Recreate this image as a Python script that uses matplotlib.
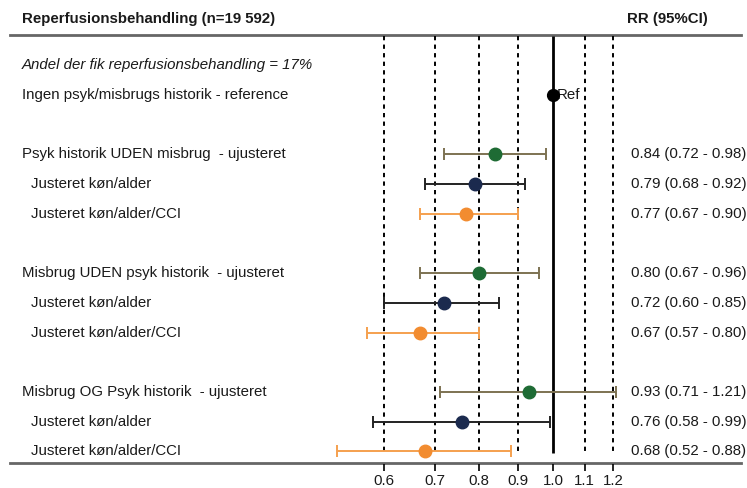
import numpy as np
import matplotlib
matplotlib.use("Agg")
import matplotlib.pyplot as plt
import matplotlib.transforms as mtransforms

plt.rcParams["font.family"] = ["Liberation Sans", "DejaVu Sans"]

# --- data -------------------------------------------------------------
title = "Reperfusionsbehandling (n=19 592)"
col_header = "RR (95%CI)"
share_note = "Andel der fik reperfusionsbehandling = 17%"
reference_label = "Ingen psyk/misbrugs historik - reference"

group_labels = [
    "Psyk historik UDEN misbrug  - ujusteret",
    "Misbrug UDEN psyk historik  - ujusteret",
    "Misbrug OG Psyk historik  - ujusteret",
]
adjust_labels = ["Justeret køn/alder", "Justeret køn/alder/CCI"]

rr = [0.84, 0.79, 0.77, 0.80, 0.72, 0.67, 0.93, 0.76, 0.68]
ci_low = [0.72, 0.68, 0.67, 0.67, 0.60, 0.57, 0.71, 0.58, 0.52]
ci_high = [0.98, 0.92, 0.90, 0.96, 0.85, 0.80, 1.21, 0.99, 0.88]

ticks = [0.6, 0.7, 0.8, 0.9, 1.0, 1.1, 1.2]

# model styling: unadjusted, sex/age, sex/age/CCI
marker_colors = ["#1e6b34", "#1b2a4e", "#f28c30"]
line_colors = ["#7d7252", "#222222", "#f5a04e"]

# --- layout (pixel-ish rows) ------------------------------------------
W, H = 747, 488
row0, row_h = 95, 29.7
fig = plt.figure(figsize=(W / 100, H / 100), dpi=100)
ax = fig.add_axes([0, 0, 1, 1])
ax.set_xscale("log")
px_per_ln = 331.0
x_one = 553.0
ax.set_xlim(np.exp(-x_one / px_per_ln), np.exp((W - x_one) / px_per_ln))
ax.set_ylim(H, 0)
ax.set_axis_off()

blend = mtransforms.blended_transform_factory(ax.transAxes, ax.transData)

def fx(px):
    return px / W

def row_y(i):
    return row0 + i * row_h

fs = 10.8
txt_color = "#1a1a1a"

# header
ax.text(fx(22), 19, title, transform=blend, fontsize=fs, fontweight="bold",
        va="center", ha="left", color=txt_color)
ax.text(fx(627), 19, col_header, transform=blend, fontsize=fs,
        fontweight="bold", va="center", ha="left", color=txt_color)
ax.plot([fx(10), fx(741)], [35, 35], transform=blend, color="#666666", lw=2)
ax.plot([fx(10), fx(741)], [463, 463], transform=blend, color="#666666", lw=2)

# grid lines
top, bottom = 36, 453
for t in ticks:
    if t == 1.0:
        ax.vlines(t, top, bottom, color="black", lw=2)
    else:
        ax.vlines(t, top, bottom, color="black", lw=1.4, linestyles=(0, (2.2, 2.2)))
    ax.vlines(t, 464, 471, color="black", lw=1.2)
    ax.text(t, 481, f"{t:.1f}", ha="center", va="center", fontsize=fs,
            color=txt_color)

# note + reference row
ax.text(fx(22), row_y(-1), share_note, transform=blend, fontsize=fs,
        style="italic", va="center", ha="left", color=txt_color)
ax.text(fx(22), row_y(0), reference_label, transform=blend, fontsize=fs,
        va="center", ha="left", color=txt_color)
ax.plot([1.0], [row_y(0)], "o", color="black", ms=8.5, zorder=5)
ax.text(1.01, row_y(0), "Ref", fontsize=fs, va="center", ha="left",
        color=txt_color)

# estimates
k = 0
for g, glabel in enumerate(group_labels):
    base = 2 + g * 4
    for m in range(3):
        y = row_y(base + m)
        if m == 0:
            ax.text(fx(22), y, glabel, transform=blend, fontsize=fs,
                    va="center", ha="left", color=txt_color)
        else:
            ax.text(fx(31), y, adjust_labels[m - 1], transform=blend,
                    fontsize=fs, va="center", ha="left", color=txt_color)
        ax.errorbar(rr[k], y, xerr=[[rr[k] - ci_low[k]], [ci_high[k] - rr[k]]],
                    fmt="none", ecolor=line_colors[m], elinewidth=1.4,
                    capsize=4, capthick=1.4, zorder=4)
        ax.plot([rr[k]], [y], "o", color=marker_colors[m], ms=9, zorder=5)
        ax.text(fx(631), y, f"{rr[k]:.2f} ({ci_low[k]:.2f} - {ci_high[k]:.2f})",
                transform=blend, fontsize=fs, va="center", ha="left",
                color=txt_color)
        k += 1

fig.savefig("out.png", dpi=100, facecolor="white")
